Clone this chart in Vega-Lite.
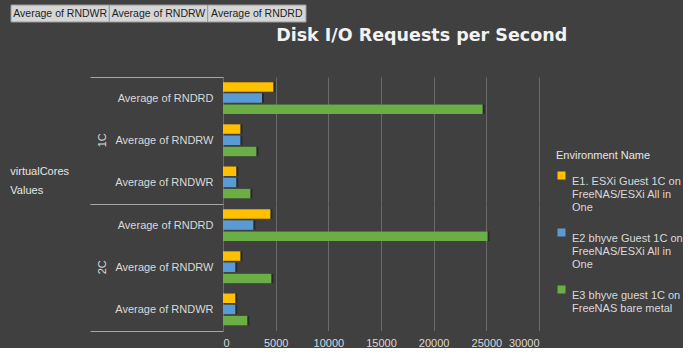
{
  "$schema": "https://vega.github.io/schema/vega-lite/v6.json",
  "background": "#404040",
  "padding": {"left": 10, "top": 4, "right": 0, "bottom": 0},
  "datasets": {
    "bars": [
      {"cores": "1C", "metric": "Average of RNDRD", "env": "E1. ESXi Guest 1C on FreeNAS/ESXi All in One", "value": 4780},
      {"cores": "1C", "metric": "Average of RNDRD", "env": "E2 bhyve Guest 1C on FreeNAS/ESXi All in One", "value": 3700},
      {"cores": "1C", "metric": "Average of RNDRD", "env": "E3 bhyve guest 1C on FreeNAS bare metal", "value": 24650},
      {"cores": "1C", "metric": "Average of RNDRW", "env": "E1. ESXi Guest 1C on FreeNAS/ESXi All in One", "value": 1650},
      {"cores": "1C", "metric": "Average of RNDRW", "env": "E2 bhyve Guest 1C on FreeNAS/ESXi All in One", "value": 1650},
      {"cores": "1C", "metric": "Average of RNDRW", "env": "E3 bhyve guest 1C on FreeNAS bare metal", "value": 3170},
      {"cores": "1C", "metric": "Average of RNDWR", "env": "E1. ESXi Guest 1C on FreeNAS/ESXi All in One", "value": 1260},
      {"cores": "1C", "metric": "Average of RNDWR", "env": "E2 bhyve Guest 1C on FreeNAS/ESXi All in One", "value": 1260},
      {"cores": "1C", "metric": "Average of RNDWR", "env": "E3 bhyve guest 1C on FreeNAS bare metal", "value": 2600},
      {"cores": "2C", "metric": "Average of RNDRD", "env": "E1. ESXi Guest 1C on FreeNAS/ESXi All in One", "value": 4500},
      {"cores": "2C", "metric": "Average of RNDRD", "env": "E2 bhyve Guest 1C on FreeNAS/ESXi All in One", "value": 2880},
      {"cores": "2C", "metric": "Average of RNDRD", "env": "E3 bhyve guest 1C on FreeNAS bare metal", "value": 25120},
      {"cores": "2C", "metric": "Average of RNDRW", "env": "E1. ESXi Guest 1C on FreeNAS/ESXi All in One", "value": 1650},
      {"cores": "2C", "metric": "Average of RNDRW", "env": "E2 bhyve Guest 1C on FreeNAS/ESXi All in One", "value": 1170},
      {"cores": "2C", "metric": "Average of RNDRW", "env": "E3 bhyve guest 1C on FreeNAS bare metal", "value": 4590},
      {"cores": "2C", "metric": "Average of RNDWR", "env": "E1. ESXi Guest 1C on FreeNAS/ESXi All in One", "value": 1170},
      {"cores": "2C", "metric": "Average of RNDWR", "env": "E2 bhyve Guest 1C on FreeNAS/ESXi All in One", "value": 1170},
      {"cores": "2C", "metric": "Average of RNDWR", "env": "E3 bhyve guest 1C on FreeNAS bare metal", "value": 2310}
    ],
    "buttons": [
      {"button": "Average of RNDWR"},
      {"button": "Average of RNDRW"},
      {"button": "Average of RNDRD"}
    ]
  },
  "concat": [
    {
      "width": 80,
      "height": 17,
      "data": {"name": "buttons"},
      "encoding": {
        "x": {"field": "button", "type": "nominal", "sort": null, "axis": null,
              "scale": {"paddingInner": 0, "paddingOuter": 0, "range": [-212, 83]}}
      },
      "layer": [
        {"mark": {"type": "rect", "fill": "#d6d6d6", "stroke": "#9a9a9a", "strokeWidth": 1}},
        {"mark": {"type": "text", "color": "#1e1e1e", "fontSize": 10.5, "font": "Liberation Sans"},
         "encoding": {"text": {"field": "button"}}}
      ]
    },
    {
      "data": {"name": "bars"},
      "title": {
        "text": "Disk I/O Requests per Second",
        "font": "DejaVu Sans",
        "fontSize": 17.5,
        "fontWeight": "bold",
        "color": "#f2f2f2",
        "anchor": "middle",
        "offset": 27,
        "dx": 147
      },
      "spacing": {"row": 0},
      "facet": {
        "row": {
          "field": "cores",
          "type": "nominal",
          "title": ["", "Values", "virtualCores"],
          "header": {
            "labelAngle": -90,
            "labelColor": "#d9d9d9",
            "labelFontSize": 11,
            "labelFont": "Liberation Sans",
            "labelPadding": -24,
            "titleAngle": 0,
            "titleColor": "#e6e6e6",
            "titleFontSize": 11,
            "titleFont": "Liberation Sans",
            "titleFontWeight": "normal",
            "titleAlign": "left",
            "titleBaseline": "top",
            "titleLineHeight": -19,
            "titlePadding": 10
          }
        }
      },
      "spec": {
        "width": 316,
        "height": 126.5,
        "layer": [
          {
            "mark": {"type": "bar", "color": "#000000", "opacity": 0.35, "xOffset": 2, "yOffset": 2},
            "encoding": {
              "y": {"field": "metric", "type": "nominal", "sort": ["Average of RNDRD", "Average of RNDRW", "Average of RNDWR"]},
              "yOffset": {"field": "env", "type": "nominal", "sort": ["E1. ESXi Guest 1C on FreeNAS/ESXi All in One", "E2 bhyve Guest 1C on FreeNAS/ESXi All in One", "E3 bhyve guest 1C on FreeNAS bare metal"]},
              "x": {"field": "value", "type": "quantitative"}
            }
          },
          {
            "mark": {"type": "bar"},
            "encoding": {
              "y": {
                "field": "metric", "type": "nominal",
                "sort": ["Average of RNDRD", "Average of RNDRW", "Average of RNDWR"],
                "scale": {"paddingInner": 0, "paddingOuter": 0},
                "axis": {
                  "title": null,
                  "tickBand": "extent",
                  "tickSize": 133,
                  "tickWidth": 1,
                  "tickColor": {"condition": {"test": "datum.index == 1 || datum.index == -1", "value": "#a6a6a6"}, "value": "transparent"},
                  "labelPadding": -123,
                  "labelColor": "#d9d9d9",
                  "labelFontSize": 11,
                  "labelFont": "Liberation Sans",
                  "domainColor": "#a6a6a6",
                  "domainWidth": 1
                }
              },
              "yOffset": {
                "field": "env", "type": "nominal",
                "sort": ["E1. ESXi Guest 1C on FreeNAS/ESXi All in One", "E2 bhyve Guest 1C on FreeNAS/ESXi All in One", "E3 bhyve guest 1C on FreeNAS bare metal"],
                "scale": {"paddingInner": 0.15, "paddingOuter": 0.46}
              },
              "x": {
                "field": "value", "type": "quantitative",
                "scale": {"domain": [0, 30000]},
                "axis": {
                  "title": null,
                  "values": [0, 5000, 10000, 15000, 20000, 25000, 30000],
                  "format": "d",
                  "grid": true,
                  "gridColor": "#6a6a6a",
                  "domain": false,
                  "ticks": false,
                  "labelPadding": 6,
                  "labelColor": "#d9d9d9",
                  "labelFontSize": 11,
                  "labelFont": "Liberation Sans"
                }
              },
              "color": {
                "field": "env", "type": "nominal",
                "scale": {
                  "domain": ["E1. ESXi Guest 1C on FreeNAS/ESXi All in One", "E2 bhyve Guest 1C on FreeNAS/ESXi All in One", "E3 bhyve guest 1C on FreeNAS bare metal"],
                  "range": ["#ffc000", "#5b9bd5", "#6aae45"]
                },
                "legend": {
                  "title": "Environment Name",
                  "orient": "none",
                  "legendX": 333,
                  "legendY": 145,
                  "titleColor": "#e6e6e6",
                  "titleFontSize": 11,
                  "titleFont": "Liberation Sans",
                  "titleFontWeight": "normal",
                  "titlePadding": 9,
                  "labelColor": "#d9d9d9",
                  "labelFontSize": 11,
                  "labelFont": "Liberation Sans",
                  "labelLimit": 0,
                  "labelBaseline": "top",
                  "labelOffset": 5,
                  "symbolType": "square",
                  "symbolSize": 64,
                  "symbolStrokeWidth": 0,
                  "rowPadding": 14,
                  "labelExpr": "substring(datum.value, 1, 2) == '1' ? ['E1. ESXi Guest 1C on', 'FreeNAS/ESXi All in', 'One'] : substring(datum.value, 1, 2) == '2' ? ['E2 bhyve Guest 1C on', 'FreeNAS/ESXi All in', 'One'] : ['E3 bhyve guest 1C on', 'FreeNAS bare metal']"
                }
              }
            }
          }
        ]
      }
    }
  ],
  "columns": 1,
  "align": "none",
  "spacing": 3,
  "config": {
    "view": {"stroke": null},
    "font": "Liberation Sans"
  }
}
